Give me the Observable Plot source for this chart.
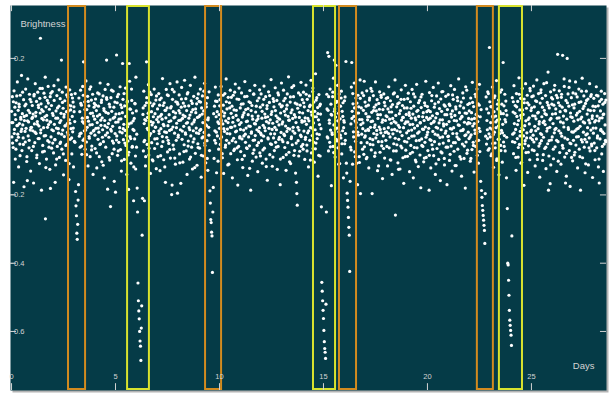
<!DOCTYPE html>
<html><head><meta charset="utf-8">
<script src="https://cdn.jsdelivr.net/npm/d3@7"></script>
<script src="https://cdn.jsdelivr.net/npm/@observablehq/plot@0.6"></script>
<style>html,body{margin:0;padding:0;background:#fff;overflow:hidden}</style>
</head><body><div id="chart"></div>
<script>
// Light curve samples: pairs of [day × 100, brightness × 1000]
const lightCurve = [
0,45,2,-30,4,88,6,12,8,-61,10,-163,12,105,14,-8,16,57,18,-95,20,21,22,70,24,-40,26,3,28,131,30,-22,32,48,34,-118,36,66,38,9,40,-51,42,92,44,27,46,-14,48,150,50,-70,52,38,54,5,56,-33,58,79,60,-176,62,18,64,61,66,-45,68,110,70,-5,72,33,74,-88,76,-158,78,140,80,-27,82,14,84,-62,86,95,88,41,90,-10,92,-130,94,73,96,-2,98,24,
100,62,102,-12,104,37,106,-165,108,90,110,8,112,-47,114,126,116,31,118,-20,120,74,122,-83,124,15,126,101,128,-35,130,56,132,2,134,-108,136,83,138,40,139,259,140,-18,142,67,144,-186,146,24,148,112,150,-55,152,45,154,-3,156,98,158,-72,160,29,162,145,163,-270,164,-26,166,58,168,-95,170,19,172,77,174,-41,176,118,178,6,180,-60,182,51,184,-125,186,88,187,-181,188,14,190,-30,192,62,194,-9,196,103,198,-48,
200,33,202,-77,204,120,206,7,208,-38,210,-163,212,-112,214,46,216,-4,218,91,220,-58,222,25,224,137,226,-19,228,60,230,-90,232,12,234,82,236,-45,238,39,240,195,242,-66,244,101,246,-10,248,54,250,-141,252,28,254,-29,256,76,258,3,260,-99,262,116,264,44,266,-52,268,9,270,87,272,-24,274,63,276,-155,278,20,280,108,282,-37,284,49,286,-6,288,94,290,-80,292,30,294,-15,296,72,298,-118,
300,58,302,-43,304,15,306,97,308,-190,310,-232,312,-261,314,-312,316,-330,318,-286,320,-215,322,-170,324,84,326,-28,328,44,330,-60,332,107,334,-19,336,63,338,-81,340,25,342,118,344,-40,346,190,348,10,350,-12,352,73,354,-66,356,27,358,134,360,-45,362,50,364,-2,366,89,368,-115,370,16,372,61,374,-34,376,110,378,-88,380,39,382,-19,384,78,386,-57,388,6,390,95,392,-140,394,31,396,-11,398,68,
400,22,402,-64,404,81,406,-5,408,47,410,-121,412,12,414,99,416,-37,418,60,420,-16,422,-88,424,35,426,128,428,-50,430,4,432,71,434,-103,436,26,438,-9,440,90,442,-44,444,53,446,-150,448,18,450,109,452,-25,454,42,457,195,458,80,460,-2,462,-183,464,124,466,9,468,-31,470,66,472,-98,474,20,476,-234,478,85,480,-13,482,45,484,-79,486,1,488,104,490,-48,492,57,494,-160,496,28,498,-20,
500,-192,502,37,505,210,506,-27,508,70,510,-84,512,14,514,95,516,-46,518,38,520,-3,522,117,524,-67,526,23,528,-130,530,56,532,-18,534,185,536,80,538,-38,540,7,542,-96,544,61,546,-11,548,113,550,-55,552,30,554,-140,556,72,558,0,560,-42,563,-184,564,-75,566,185,568,133,570,-29,572,51,574,-107,576,11,578,77,580,-60,582,40,584,-8,587,-217,588,-118,590,24,592,-36,594,67,596,-86,598,145,
600,46,602,-22,604,-180,606,-250,608,-458,610,-510,612,-540,614,-563,616,-600,618,-628,620,-643,622,-685,624,-590,626,-525,628,-318,630,-210,632,36,634,-71,636,104,638,9,639,-217,640,-40,642,62,644,-115,646,18,649,190,650,85,652,-52,654,27,656,-9,658,123,660,-83,662,43,664,-26,666,70,668,-137,670,15,672,94,674,-47,676,5,678,61,680,-100,682,29,684,-14,686,110,688,-64,690,38,692,-2,694,78,696,-123,698,21,
700,-35,702,52,704,-88,706,14,708,97,710,-20,712,63,714,-129,716,31,718,-6,720,84,722,-58,724,22,726,141,728,-44,730,7,732,-97,734,70,736,-15,738,48,740,-163,742,26,744,109,746,-31,748,55,750,-74,752,3,754,91,756,-49,758,35,760,-11,762,126,764,-92,766,17,768,59,770,-199,772,-171,774,80,776,-1,778,44,780,-66,782,102,784,-19,786,28,788,-110,790,73,792,-40,794,10,796,131,798,-195,
800,66,802,-25,804,18,806,93,808,-80,810,40,812,-9,814,-166,816,57,818,115,820,-37,822,24,824,-104,826,69,828,1,830,-53,832,136,834,30,836,-18,838,82,840,-71,842,47,844,-140,846,12,848,100,850,-42,852,61,854,-3,856,-95,858,34,860,121,862,-27,864,76,866,-60,868,8,870,-124,872,50,874,-12,876,89,878,-36,880,20,882,145,884,-78,886,41,888,-4,890,67,892,-113,894,27,896,-50,898,96,
900,-20,902,74,904,-63,906,33,908,110,910,-8,912,-148,914,55,916,-33,918,90,920,12,922,-86,924,46,926,-17,928,127,930,-55,932,21,934,-106,936,68,938,3,940,-41,942,85,944,-128,946,26,948,-2,950,102,952,-70,954,-188,956,-224,958,-272,960,-281,962,-309,964,-320,966,-427,968,-250,970,-178,972,38,974,-93,976,60,978,-12,980,116,982,-48,984,29,986,-135,988,74,990,-27,992,14,994,93,996,-66,998,35,
1000,-5,1002,79,1004,-52,1006,22,1008,118,1010,-30,1012,45,1014,-91,1016,8,1018,63,1020,-137,1022,31,1024,-14,1026,97,1028,-60,1030,17,1032,140,1034,-40,1036,52,1038,-7,1040,-112,1042,86,1044,24,1046,-48,1048,70,1050,-21,1052,107,1054,-79,1056,39,1058,-2,1060,60,1062,-150,1064,13,1066,92,1068,-34,1070,49,1072,-66,1074,2,1076,125,1078,-45,1080,33,1082,-13,1084,81,1086,-97,1088,-171,1090,20,1092,-58,1094,113,1096,6,1098,-29,
1100,55,1102,-73,1104,12,1106,99,1108,-36,1110,28,1112,-120,1114,67,1116,-10,1118,41,1120,-85,1122,132,1124,-22,1126,50,1128,-4,1130,-62,1132,89,1134,16,1136,-143,1138,35,1140,-30,1142,73,1144,-56,1146,106,1148,1,1150,-186,1152,47,1154,-15,1156,62,1158,-101,1160,22,1162,-40,1164,95,1166,-68,1168,9,1170,121,1172,-26,1174,43,1176,-89,1178,18,1180,-9,1182,76,1184,-132,1186,31,1188,-47,1190,84,1192,-3,1194,-77,1196,57,1198,-19,
1200,96,1202,-41,1204,25,1206,-107,1208,64,1210,4,1212,-28,1214,119,1216,-63,1218,37,1220,-12,1222,88,1224,-95,1226,15,1228,53,1230,-157,1232,29,1234,-36,1236,102,1238,-5,1240,71,1242,-82,1244,20,1246,-21,1248,138,1250,-52,1252,44,1254,-116,1256,10,1258,82,1260,-33,1262,58,1264,-70,1266,-2,1268,114,1270,-46,1272,32,1274,-9,1276,77,1278,-125,1280,26,1282,-58,1284,93,1286,5,1288,-31,1290,66,1292,-170,1294,40,1296,-17,1298,128,
1300,-38,1302,61,1304,14,1306,-90,1308,107,1310,-22,1312,45,1314,-61,1316,83,1318,2,1320,-128,1322,52,1324,-14,1326,96,1328,-47,1330,30,1332,146,1334,-75,1336,19,1338,-7,1340,72,1342,-108,1344,41,1346,-30,1348,115,1350,-53,1352,24,1354,-2,1356,88,1358,-84,1360,35,1362,-19,1364,69,1366,-136,1368,12,1370,-163,1372,-196,1374,-230,1376,54,1378,-41,1380,99,1382,-10,1384,27,1386,-72,1388,63,1390,-25,1392,130,1394,-58,1396,18,1398,79,
1400,40,1402,-66,1404,101,1406,-13,1408,58,1410,-96,1412,26,1414,-31,1416,122,1418,7,1420,-54,1422,80,1424,-18,1426,47,1428,-118,1430,17,1432,90,1434,-40,1436,63,1438,-3,1440,136,1442,-77,1444,34,1446,-26,1448,103,1450,-64,1452,11,1454,72,1456,-104,1458,45,1460,-9,1462,155,1464,-48,1466,29,1468,85,1470,-35,1472,56,1474,-145,1476,20,1478,94,1480,-23,1482,61,1484,-86,1486,37,1488,-6,1490,-235,1492,-456,1494,-482,1496,-510,1498,-538,
1500,-562,1502,-597,1504,-630,1506,-650,1508,-661,1510,-679,1512,-520,1514,-250,1516,95,1518,-30,1520,217,1522,48,1524,-71,1526,206,1528,19,1530,-46,1532,110,1534,-10,1536,66,1538,-173,1540,34,1542,-23,1544,88,1546,-58,1548,142,1550,5,1552,195,1554,52,1556,-89,1558,28,1560,180,1562,-37,1564,74,1566,-4,1568,121,1570,-62,1572,39,1574,-15,1576,96,1578,-108,1580,23,1582,60,1584,-33,1586,104,1588,-80,1590,45,1592,-12,1594,70,1596,-150,1598,18,
1600,13,1602,-50,1604,87,1606,-20,1608,191,1610,-107,1612,-136,1614,-195,1616,-216,1618,-236,1620,-266,1622,-295,1624,-318,1626,-424,1628,-160,1630,-60,1632,8,1634,116,1636,188,1638,45,1640,-110,1642,67,1644,-15,1646,30,1648,128,1650,-74,1652,17,1654,-43,1656,84,1658,-3,1660,-107,1662,40,1664,-170,1666,92,1668,-25,1670,58,1672,-88,1674,21,1676,137,1678,-196,1680,6,1682,55,1684,-22,1686,99,1688,-66,1690,11,1692,48,1694,-81,1696,133,1698,-31,
1700,72,1702,-12,1704,38,1706,-94,1708,105,1710,-47,1712,20,1714,-8,1716,63,1718,-121,1720,29,1722,84,1724,-35,1726,-2,1728,112,1730,-68,1732,42,1734,-196,1736,16,1738,-53,1740,91,1742,-20,1744,57,1746,-87,1748,5,1750,131,1752,-33,1754,46,1756,-11,1758,79,1760,-129,1762,24,1764,-44,1766,68,1768,-1,1770,102,1772,-75,1774,35,1776,-18,1778,86,1780,-56,1782,13,1784,-152,1786,50,1788,-27,1790,96,1792,-6,1794,-92,1796,61,1798,18,
1800,-40,1802,83,1804,-15,1806,29,1808,-115,1810,52,1812,-3,1814,117,1816,-62,1818,22,1820,-30,1822,76,1824,-98,1826,10,1828,43,1830,-140,1832,65,1834,-21,1836,96,1838,-50,1840,15,1842,-8,1844,137,1846,-259,1848,33,1850,-71,1852,58,1854,-12,1856,88,1858,-106,1860,4,1862,-37,1864,70,1866,-2,1868,-124,1870,47,1872,-57,1874,108,1876,19,1878,-26,1880,62,1882,-91,1884,27,1886,-166,1888,80,1890,-43,1892,9,1894,121,1896,-69,1898,36,
1900,-18,1902,55,1904,-87,1906,14,1908,98,1910,-34,1912,41,1914,-132,1916,6,1918,73,1920,-55,1922,25,1924,-10,1926,109,1928,-75,1930,37,1932,-150,1934,60,1936,-27,1938,-4,1940,87,1942,-98,1944,20,1946,-41,1948,124,1950,-62,1952,3,1954,48,1956,-117,1958,30,1960,-15,1962,77,1964,-83,1966,12,1968,-179,1970,56,1972,-36,1974,95,1976,-7,1978,-58,1980,41,1982,-103,1984,18,1986,70,1988,-46,1990,-1,1992,133,1994,-90,1996,27,1998,-24,
2000,59,2002,-70,2004,21,2006,-5,2008,-186,2010,100,2012,-38,2014,44,2016,-121,2018,9,2020,76,2022,-53,2024,32,2026,-14,2028,115,2030,-85,2032,16,2034,-44,2036,67,2038,-140,2040,26,2042,-2,2044,90,2046,-64,2048,38,2050,-25,2052,128,2054,-96,2056,11,2058,53,2060,-32,2062,-158,2064,81,2066,-9,2068,45,2070,-77,2072,20,2074,103,2076,-48,2078,2,2080,64,2082,-112,2084,35,2086,-19,2088,89,2090,-60,2092,7,2094,-170,2096,50,2098,-29,
2100,94,2102,-41,2104,15,2106,-99,2108,62,2110,-6,2112,120,2114,-57,2116,28,2118,-130,2120,46,2122,-20,2124,80,2126,-3,2128,-72,2130,109,2132,33,2134,-47,2136,58,2138,-114,2140,17,2142,-30,2144,86,2146,-66,2148,5,2150,140,2152,-37,2154,41,2156,-88,2158,23,2160,-12,2162,72,2164,-145,2166,30,2168,-51,2170,99,2172,-8,2174,55,2176,-93,2178,13,2180,-26,2182,-180,2184,117,2186,-45,2188,39,2190,-78,2192,8,2194,65,2196,-16,2198,24,
2200,-35,2202,68,2204,10,2206,-101,2208,84,2210,-24,2212,41,2214,-67,2216,130,2218,2,2220,-46,2222,59,2224,-133,2226,24,2228,-10,2230,95,2232,-58,2234,36,2236,-19,2238,110,2240,-84,2242,15,2244,67,2246,-40,2248,-5,2250,124,2252,-73,2254,29,2256,-160,2258,50,2260,-187,2262,-207,2264,-231,2266,-245,2268,-260,2270,-274,2272,-289,2274,-304,2276,-342,2278,-196,2280,-28,2282,87,2284,-51,2286,18,2288,-9,2290,102,2292,-69,2294,40,2296,-21,2298,232,
2300,73,2302,-30,2304,12,2306,-85,2308,58,2310,-7,2312,116,2314,-49,2316,27,2318,-119,2320,44,2322,-16,2324,90,2326,-62,2328,31,2330,-3,2332,135,2334,-94,2336,19,2338,52,2340,-37,2342,78,2344,-141,2346,22,2348,-20,2350,101,2352,-55,2354,38,2356,-11,2358,66,2360,-104,2362,7,2364,188,2366,-45,2368,61,2370,-26,2372,95,2374,-71,2376,14,2378,47,2380,-150,2382,34,2384,-240,2386,-400,2388,-405,2390,-450,2392,-494,2394,-538,2396,-567,2398,-582,
2400,-597,2402,-611,2404,-641,2406,-320,2408,85,2410,-22,2412,43,2414,-79,2416,120,2418,9,2420,-46,2422,62,2424,-8,2426,-128,2428,97,2430,30,2432,-35,2434,74,2436,-89,2438,18,2440,143,2442,-52,2444,49,2446,-14,2448,83,2450,-107,2452,25,2454,-4,2456,112,2458,-63,2460,36,2462,-27,2464,-172,2466,70,2468,3,2470,-41,2472,126,2474,-76,2476,54,2478,-18,2480,92,2482,-134,2484,21,2486,-56,2488,64,2490,8,2492,-97,2494,105,2496,-33,2498,47,
2500,-10,2502,88,2504,-68,2506,32,2508,-25,2510,119,2512,-45,2514,58,2516,1,2518,-115,2520,76,2522,23,2524,-36,2526,137,2528,-82,2530,40,2532,-6,2534,97,2536,-57,2538,15,2540,-148,2542,69,2544,-20,2546,108,2548,-41,2550,29,2552,83,2554,-99,2556,12,2558,-31,2560,126,2562,48,2564,-64,2566,6,2568,91,2570,-123,2572,35,2574,-13,2576,71,2578,-50,2580,160,2582,-186,2584,-86,2586,55,2588,-2,2590,-167,2592,102,2594,24,2596,-39,2598,66,
2600,-30,2602,81,2604,9,2606,-94,2608,63,2610,-18,2612,121,2614,-59,2616,38,2618,-5,2620,92,2622,-131,2624,25,2626,212,2628,-44,2630,70,2632,-12,2634,105,2636,-76,2638,44,2640,14,2642,-110,2644,86,2646,-28,2648,57,2650,209,2652,-63,2654,31,2656,-1,2658,118,2660,-89,2662,48,2664,-165,2666,77,2668,-145,2670,22,2672,200,2674,-37,2676,96,2678,-8,2680,60,2682,-70,2684,134,2686,-175,2688,40,2690,-50,2692,85,2694,-15,2696,27,2698,-100,
2700,99,2702,-40,2704,16,2706,-83,2708,66,2710,-12,2712,131,2714,-54,2716,34,2718,-7,2720,87,2722,-121,2724,20,2726,-29,2728,110,2730,-66,2732,45,2734,1,2736,-186,2738,73,2740,-38,2742,28,2744,142,2746,-91,2748,53,2750,-16,2752,90,2754,-60,2756,11,2758,-135,2760,68,2762,-24,2764,104,2766,-45,2768,37,2770,-3,2772,81,2774,-112,2776,19,2778,-33,2780,126,2782,-71,2784,47,2786,-10,2788,94,2790,-56,2792,24,2794,-149,2796,60,2798,-19,
2800,83,2802,-48,2804,14,2806,-97,2808,59,2810,-4,2812,117,2814,-62,2816,31,2818,-27,2820,90,2822,-118,2824,17,2826,-165,2828,74,2830,-36,2832,46,2834,-8,2836,104,2838,-80,2840,26,2842,-15,2844,66,2846,-131,2848,37,2850,-51,2852,97,2854,5,2856,-40,2858,78
];

// Additional out-of-transit samples, same units: [day × 100, brightness × 1000]
const lightCurveExtra = [
1,12,5,-48,9,73,13,-20,17,35,21,-66,25,90,29,4,33,-31,37,58,41,-85,45,22,49,-7,53,101,57,-52,61,30,65,-14,69,66,73,-102,77,17,81,48,85,-40,89,80,93,-3,97,-70,
101,27,105,-58,109,95,113,-16,117,42,121,-91,125,7,129,63,133,-35,137,112,141,-9,145,50,149,-74,153,20,157,-27,161,86,165,-120,169,33,173,-2,177,69,181,-45,185,14,189,98,193,-63,197,39,
201,-12,205,77,209,-38,213,25,217,-95,221,55,225,-6,229,108,233,-49,237,18,241,-22,245,71,249,-80,253,36,257,2,261,-55,265,93,269,-17,273,46,277,-108,281,10,285,61,289,-33,293,84,297,-4,
301,44,305,-46,329,-21,333,68,337,-57,341,15,345,92,349,-36,353,50,357,-10,361,-82,365,27,369,74,373,-29,377,5,381,117,385,-68,389,40,393,-13,397,57,
401,-25,405,63,409,-77,413,31,417,-4,421,96,425,-52,429,19,433,78,437,-31,441,-113,445,47,449,3,453,-60,457,85,461,-18,465,39,469,-90,473,58,477,-8,481,107,485,-42,489,25,493,-66,497,72,
501,13,505,-39,509,88,513,-71,517,22,521,-15,525,64,529,-100,533,41,537,-6,541,97,545,-48,549,30,553,-26,557,75,561,-83,565,8,569,52,573,-35,577,110,581,-58,585,17,589,-11,593,68,597,-124,
601,-60,633,55,637,-44,641,21,645,-88,649,70,653,-5,657,39,661,-63,665,101,669,-20,673,44,677,-97,681,12,685,67,689,-36,693,-1,697,90,
701,-50,705,28,709,-12,713,79,717,-85,721,36,725,-29,729,62,733,3,737,-118,741,48,745,-17,749,93,753,-40,757,15,761,-67,765,55,769,-8,773,109,777,-54,781,26,785,-92,789,40,793,-3,797,71,
801,-31,805,47,809,-106,813,19,817,81,821,-13,825,34,829,-73,833,60,837,-22,841,10,845,96,849,-57,853,25,857,-9,861,-89,865,43,869,68,873,-45,877,14,881,-120,885,52,889,-18,893,83,897,-61,
901,29,905,-11,909,72,913,-84,917,37,921,-30,925,104,929,-48,933,6,937,58,941,-93,945,20,949,-25,977,-40,981,75,985,-16,989,44,993,-101,997,9,
1001,61,1005,-35,1009,17,1013,-79,1017,92,1021,-6,1025,40,1029,-54,1033,73,1037,-20,1041,12,1045,-110,1049,55,1053,-2,1057,86,1061,-41,1065,27,1069,-70,1073,101,1077,-15,1081,48,1085,-62,1089,19,1093,80,1097,-33,
1101,-8,1105,66,1109,-96,1113,34,1117,-27,1121,88,1125,-46,1129,15,1133,-64,1137,53,1141,2,1145,-122,1149,70,1153,-19,1157,31,1161,-78,1165,96,1169,-39,1173,8,1177,60,1181,-55,1185,23,1189,-14,1193,108,1197,-86,
1201,-24,1205,45,1209,-68,1213,80,1217,-3,1221,27,1225,-117,1229,62,1233,-33,1237,11,1241,91,1245,-50,1249,36,1253,-8,1257,-89,1261,74,1265,-21,1269,47,1273,-60,1277,15,1281,99,1285,-37,1289,22,1293,-95,1297,58,
1301,8,1305,-44,1309,76,1313,-26,1317,34,1321,-82,1325,63,1329,-5,1333,19,1337,-103,1341,87,1345,-35,1349,49,1353,-13,1357,120,1361,-70,1365,28,1369,-48,1373,66,1377,-2,1381,-86,1385,42,1389,93,1393,-29,1397,13,
1401,-52,1405,70,1409,16,1413,-37,1417,95,1421,-71,1425,24,1429,-12,1433,59,1437,-98,1441,43,1445,-4,1449,113,1453,-46,1457,29,1461,-65,1465,78,1469,-21,1473,38,1477,-84,1481,6,1485,66,
1517,52,1521,-33,1525,88,1529,10,1533,-59,1537,36,1541,-18,1545,101,1549,-76,1553,45,1557,-7,1561,71,1565,-42,1569,17,1573,-110,1577,60,1581,-25,1585,84,1589,-50,1593,30,1597,-3,
1601,76,1605,-40,1633,-68,1637,24,1641,97,1645,-30,1649,55,1653,-88,1657,12,1661,69,1665,-16,1669,40,1673,-105,1677,83,1681,-47,1685,21,1689,-6,1693,91,1697,-59,
1701,-27,1705,60,1709,-90,1713,29,1717,-11,1721,78,1725,-52,1729,15,1733,104,1737,-38,1741,47,1745,-2,1749,-77,1753,64,1757,-23,1761,35,1765,-115,1769,51,1773,-8,1777,92,1781,-44,1785,20,1789,-64,1793,71,1797,-17,
1801,32,1805,-58,1809,85,1813,-20,1817,43,1821,-97,1825,58,1829,-9,1833,24,1837,-71,1841,99,1845,-34,1849,11,1853,-53,1857,67,1861,-125,1865,38,1869,-15,1873,80,1877,-62,1881,27,1885,-3,1889,55,1893,-88,1897,14,
1901,-45,1905,82,1909,-12,1913,33,1917,-79,1921,54,1925,-28,1929,7,1933,96,1937,-61,1941,26,1945,-103,1949,45,1953,-19,1957,70,1961,-40,1965,11,1969,87,1973,-55,1977,29,1981,-8,1985,-92,1989,62,1993,-31,1997,44,
2001,-16,2005,48,2009,-84,2013,25,2017,-40,2021,91,2025,-66,2029,13,2033,57,2037,-22,2041,-109,2045,39,2049,-4,2053,72,2057,-51,2061,20,2065,-74,2069,102,2073,-30,2077,8,2081,-93,2085,60,2089,-13,2093,35,2097,-60,
2101,-28,2105,66,2109,-81,2113,37,2117,-7,2121,93,2125,-47,2129,18,2133,-114,2137,52,2141,-20,2145,76,2149,-36,2153,4,2157,61,2161,-95,2165,28,2169,-11,2173,84,2177,-57,2181,40,2185,-24,2189,107,2193,-69,2197,12,
2201,46,2205,-30,2209,-93,2213,22,2217,71,2221,-55,2225,9,2229,-20,2233,88,2237,-42,2241,31,2245,-107,2249,63,2253,-14,2285,52,2289,-35,2293,97,2297,-64,
2301,-4,2305,59,2309,-80,2313,30,2317,-23,2321,85,2325,-48,2329,14,2333,-99,2337,66,2341,2,2345,-37,2349,44,2353,-70,2357,108,2361,-18,2365,38,2369,-58,2373,21,2377,75,2381,-31,
2409,-44,2413,73,2417,-18,2421,39,2425,-90,2429,58,2433,6,2437,-61,2441,95,2445,-27,2449,33,2453,-105,2457,49,2461,-9,2465,81,2469,-50,2473,17,2477,-33,2481,70,2485,-75,2489,26,2493,112,2497,-14,
2501,55,2505,-38,2509,90,2513,-70,2517,31,2521,-12,2525,74,2529,-96,2533,42,2537,8,2541,-49,2545,100,2549,-23,2553,57,2557,-82,2561,16,2565,38,2569,-60,2573,129,2577,-5,2581,63,2585,-41,2589,20,2593,-112,2597,85,
2601,37,2605,-66,2609,108,2613,-8,2617,52,2621,-40,2625,85,2629,-101,2633,26,2637,62,2641,-19,2645,95,2649,-55,2653,11,2657,140,2661,-33,2665,46,2669,-78,2673,70,2677,-3,2681,115,2685,-48,2689,29,2693,-90,2697,64,
2701,-16,2705,55,2709,-75,2713,96,2717,-30,2721,40,2725,-5,2729,71,2733,-88,2737,23,2741,104,2745,-45,2749,14,2753,60,2757,-37,2761,-109,2765,77,2769,-21,2773,49,2777,-62,2781,11,2785,89,2789,-51,2793,32,2797,-4,
2801,47,2805,-70,2809,18,2813,92,2817,-33,2821,61,2825,-95,2829,25,2833,-11,2837,80,2841,-58,2845,36,2849,-20,2853,71,2857,-44
];

// Highlighted transit windows (days)
const orangeStart = [2.74, 9.33, 15.77, 22.40];
const orangeEnd   = [3.56, 10.10, 16.59, 23.17];
const yellowStart = [5.58, 14.52, 23.46];
const yellowEnd   = [6.63, 15.58, 24.57];

// Axes
const xTicks = [0, 5, 10, 15, 20, 25];
const yTicks = [0.2, -0.2, -0.4, -0.6];
const xDomain = [-0.05, 28.61];
const yDomain = [-0.773, 0.355];

const points = [];
for (const arr of [lightCurve, lightCurveExtra]) {
  for (let i = 0; i + 1 < arr.length; i += 2) {
    points.push({day: arr[i] / 100, brightness: arr[i + 1] / 1000});
  }
}
const orangeWin = orangeStart.map((s, i) => ({start: s, end: orangeEnd[i]}));
const yellowWin = yellowStart.map((s, i) => ({start: s, end: yellowEnd[i]}));

const bg = "#053b47";
const txt = "#d4d4d4";
const font = "'Liberation Sans Narrow', 'Arial Narrow', 'Liberation Sans', sans-serif";
const fmtY = d3.format(".1f");

const chart = Plot.plot({
  width: 611,
  height: 394,
  marginLeft: 10,
  marginRight: 5,
  marginTop: 5,
  marginBottom: 4,
  style: {background: "#ffffff", fontFamily: font},
  x: {domain: xDomain, axis: null},
  y: {domain: yDomain, axis: null},
  marks: [
    Plot.frame({fill: "#b4b4b4", dx: 2, dy: 2}),
    Plot.frame({fill: bg}),
    Plot.dot(points, {x: "day", y: "brightness", r: 1.6, fill: "#ffffff", stroke: null}),
    Plot.rect(orangeWin, {x1: "start", x2: "end", fill: "none", stroke: "#d38b1f", strokeWidth: 2, insetTop: 1, insetBottom: 1}),
    Plot.rect(yellowWin, {x1: "start", x2: "end", fill: "none", stroke: "#d8e22e", strokeWidth: 2, insetTop: 1, insetBottom: 1}),
    // inward tick marks
    Plot.ruleY(yTicks, {y: d => d, x1: xDomain[0], x2: xDomain[0] + 0.29, stroke: txt}),
    Plot.ruleY(yTicks, {y: d => d, x1: xDomain[1] - 0.29, x2: xDomain[1], stroke: txt}),
    Plot.ruleX(xTicks, {x: d => d, y1: yDomain[0], y2: yDomain[0] + 0.02, stroke: txt}),
    Plot.ruleX(xTicks, {x: d => d, y1: yDomain[1] - 0.018, y2: yDomain[1], stroke: txt}),
    // tick labels
    Plot.text(yTicks, {y: d => d, frameAnchor: "left", dx: 14, textAnchor: "end", text: d => fmtY(d), fill: txt, fontSize: 7.5}),
    Plot.text(xTicks, {x: d => d, frameAnchor: "bottom", dy: -12, text: d => String(d), fill: txt, fontSize: 7.5}),
    Plot.text(["Brightness"], {frameAnchor: "top-left", dx: 10, dy: 15, textAnchor: "start", text: d => d, fill: txt, fontSize: 9.5}),
    Plot.text(["Days"], {frameAnchor: "bottom-right", dx: -12, dy: -22, textAnchor: "end", text: d => d, fill: txt, fontSize: 9.5})
  ]
});
document.getElementById("chart").appendChild(chart);
</script>
</body></html>
